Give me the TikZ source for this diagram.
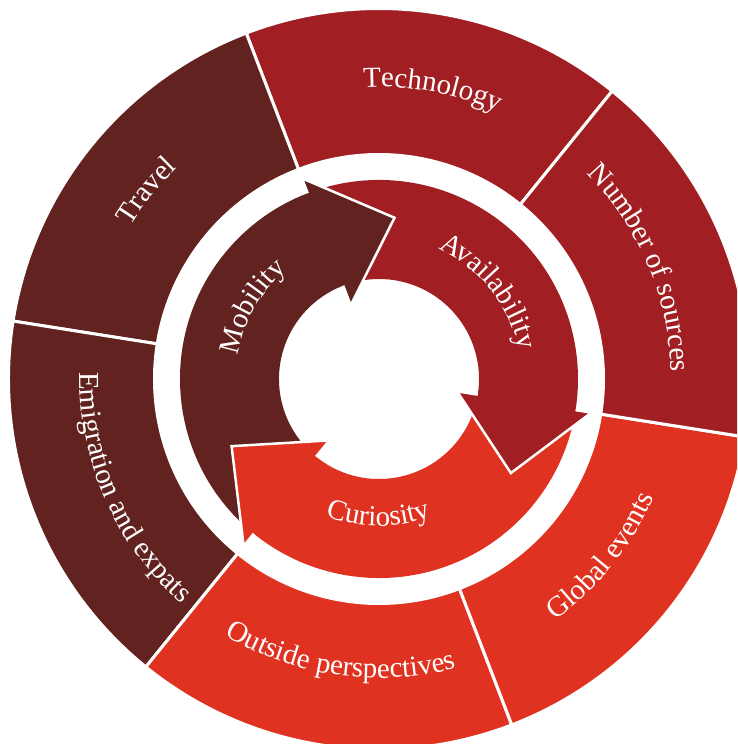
\documentclass[tikz,border=0pt]{standalone}
\usepackage{fontspec}
\setmainfont{Liberation Serif}
\usetikzlibrary{decorations.text}
\definecolor{darkmaroon}{RGB}{97,34,32}
\definecolor{midred}{RGB}{161,31,35}
\definecolor{brightred}{RGB}{223,50,32}
\newcommand{\ringfont}{\fontsize{29}{34}\selectfont}

\begin{document}
\begin{tikzpicture}[x=1pt,y=1pt,
  segment/.style={draw=white,line width=3pt,line join=miter},
  headline/.style={draw=white,line width=2.5pt,line join=miter},
  ringtext/.style={decorate,decoration={text along path,text align=center,text color=white,text={|\ringfont|#1}}}]
\useasboundingbox (-379,-365) rectangle (358,379);
\clip (-379,-365) rectangle (358,379);
\foreach \a/\col in {51/midred,111/darkmaroon,171/darkmaroon,231/brightred,291/brightred,351/midred}
  \filldraw[segment,fill=\col] (\a:224.5) -- (\a:370.5) arc (\a:\a+60:370.5) -- (\a+60:224.5) arc (\a+60:\a:224.5) -- cycle;
\foreach \b/\p/\col in {111/231/darkmaroon,-9/111/midred,-129/-9/brightred}
  \fill[\col] (\p-1:199) arc (\p-1:\b-2:199) -- (\b-2:100) arc (\b-2:\p-1:100) -- cycle;
\foreach \b/\col in {111/darkmaroon,-9/midred,-129/brightred}
  \filldraw[headline,fill=\col] (\b:199) -- (\b:215) -- (\b-26.5:162) -- (\b:79) -- (\b:100);
\path[ringtext=Technology] (119.5:292) arc (119.5:39.5:292);
\path[ringtext=Number of sources] (63:292) arc (63:-17:292);
\path[ringtext=Travel] (181:292) arc (181:101:292);
\path[ringtext=Global events] (-78.6:299) arc (-78.6:1.4:299);
\path[ringtext=Outside perspectives] (-138:299) arc (-138:-58:299);
\path[ringtext=Emigration and expats] (163.7:299) arc (163.7:243.7:299);
\path[ringtext=Mobility] (190.4:143) arc (190.4:110.4:143);
\path[ringtext={A|\ringfont\kern-4pt|v|\ringfont|ailability}] (78.4:143) arc (78.4:-1.6:143);
\path[ringtext=Curiosity] (-130.3:147) arc (-130.3:-50.3:147);
\end{tikzpicture}
\end{document}
